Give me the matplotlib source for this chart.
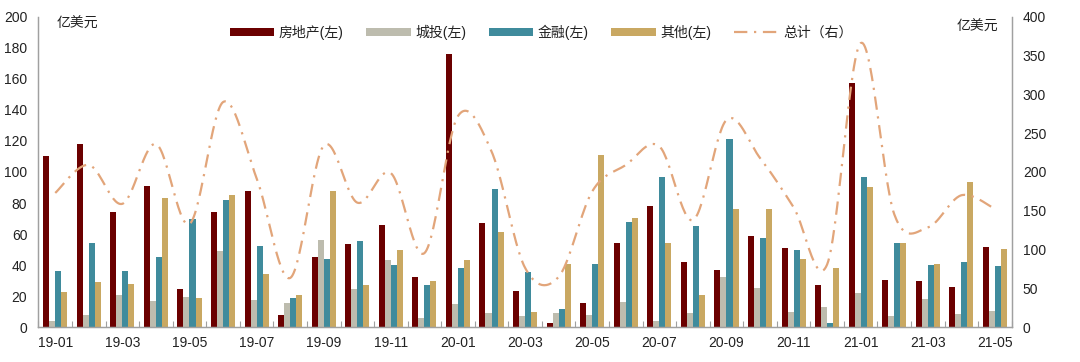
import numpy as np
import matplotlib
matplotlib.use("Agg")
import matplotlib.pyplot as plt
from matplotlib.lines import Line2D
from matplotlib.patches import Patch

plt.rcParams['font.family'] = ['Liberation Sans', 'Noto Sans CJK SC', 'DejaVu Sans']

months = ["19-01", "19-02", "19-03", "19-04", "19-05", "19-06", "19-07", "19-08", "19-09", "19-10",
          "19-11", "19-12", "20-01", "20-02", "20-03", "20-04", "20-05", "20-06", "20-07", "20-08",
          "20-09", "20-10", "20-11", "20-12", "21-01", "21-02", "21-03", "21-04", "21-05"]

real_estate = [110, 118, 74, 91, 24.5, 74, 88, 8, 45.5, 53.5,
               66, 32.5, 176, 67, 23.5, 3, 15.5, 54.5, 78, 42,
               37, 59, 51, 27, 157.5, 30.5, 30, 26, 52]
lgfv = [4, 8, 21, 17, 19.5, 49, 17.5, 15.5, 56.5, 24.5,
        43, 6, 15, 9, 7.5, 9.5, 8, 16, 4, 9.5,
        32.5, 25.5, 10, 13, 22, 7, 18, 8.5, 10.5]
finance = [36, 54, 36, 45, 70, 82, 52.5, 19, 44, 55.5,
           40, 27, 38, 89, 35.5, 12, 40.5, 68, 97, 65.5,
           121.5, 57.5, 49.5, 3, 96.5, 54, 40, 42, 39.5]
other = [23, 29, 28, 83, 19, 85, 34, 21, 88, 27,
         49.5, 30, 43, 61.5, 10, 40.5, 111, 70.5, 54, 21,
         76, 76, 44, 38, 90, 54, 40.5, 93.5, 50.5]
total = [173, 209, 159, 236, 133, 290, 192, 63.5, 234, 160.5,
         198.5, 95.5, 272, 226.5, 76.5, 65, 175, 209, 233, 138,
         267, 218, 154.5, 81, 366, 145.5, 128.5, 170, 152.5]

series_names = ["房地产(左)", "城投(左)", "金融(左)", "其他(左)"]
colors = ["#6B0000", "#BDBCAE", "#3F8B9C", "#C9A862"]
line_color = "#E2A57A"
line_name = "总计（右）"

fig = plt.figure(figsize=(10.8, 3.62), dpi=100)
ax = fig.add_axes([0.0356, 0.0959, 0.9012, 0.8581])
ax2 = ax.twinx()

x = np.arange(len(months))
bw = 0.18
data = [real_estate, lgfv, finance, other]
for i, (vals, c) in enumerate(zip(data, colors)):
    ax.bar(x + (i - 1.5) * bw, vals, width=bw, color=c, zorder=2)

# Excel-like smoothed line (uniform Catmull-Rom through the points)
def catmull_rom(xs, ys, n=30):
    px = np.concatenate([[xs[0]], xs, [xs[-1]]]).astype(float)
    py = np.concatenate([[ys[0]], ys, [ys[-1]]]).astype(float)
    outx, outy = [], []
    t = np.linspace(0, 1, n, endpoint=False)
    for k in range(1, len(px) - 2):
        p0, p1, p2, p3 = px[k-1], px[k], px[k+1], px[k+2]
        q0, q1, q2, q3 = py[k-1], py[k], py[k+1], py[k+2]
        b1x, b1y = p1 + (p2 - p0) / 6, q1 + (q2 - q0) / 6
        b2x, b2y = p2 - (p3 - p1) / 6, q2 - (q3 - q1) / 6
        outx.append((1-t)**3*p1 + 3*(1-t)**2*t*b1x + 3*(1-t)*t**2*b2x + t**3*p2)
        outy.append((1-t)**3*q1 + 3*(1-t)**2*t*b1y + 3*(1-t)*t**2*b2y + t**3*q2)
    outx.append([px[-2]]); outy.append([py[-2]])
    return np.concatenate(outx), np.concatenate(outy)

sx, sy = catmull_rom(x, np.array(total))
ax2.plot(sx, sy, color=line_color, lw=1.6, linestyle=(0, (6, 3, 1, 3)), zorder=3)

ax.set_xlim(-0.5, len(months) - 0.5)
ax.set_ylim(0, 200)
ax2.set_ylim(0, 400)
ax.set_yticks(np.arange(0, 201, 20))
ax2.set_yticks(np.arange(0, 401, 50))

ax.set_xticks(x[::2])
ax.set_xticklabels(months[::2])
ax.set_xticks(np.arange(-0.5, len(months), 1), minor=True)
ax.tick_params(axis='x', which='major', length=0, pad=6, labelsize=10, labelcolor="#222222")
ax.tick_params(axis='x', which='minor', direction='in', length=4, color="#A0A0A0", width=0.8)
ax.tick_params(axis='y', length=0, pad=8, labelsize=10, labelcolor="#222222")
ax2.tick_params(axis='y', length=0, pad=8, labelsize=10, labelcolor="#222222")

for a in (ax, ax2):
    a.spines['top'].set_visible(False)
    for s in ('left', 'right', 'bottom'):
        a.spines[s].set_color("#A0A0A0")
        a.spines[s].set_linewidth(0.9)

fig.text(57 / 1080, 1 - 24 / 362, "亿美元", fontsize=10, color="#222222", va='center', ha='left')
fig.text(998 / 1080, 1 - 27 / 362, "亿美元", fontsize=10, color="#222222", va='center', ha='right')

handles = [Patch(facecolor=c, edgecolor='none') for c in colors]
handles.append(Line2D([0], [0], color=line_color, lw=1.6, linestyle=(0, (6, 3, 1, 3))))
fig.legend(handles, series_names + [line_name], ncol=5, frameon=False,
           loc='center', bbox_to_anchor=(541 / 1080, 1 - 32 / 362),
           fontsize=10, handlelength=3.2, handleheight=0.55, handletextpad=0.35,
           columnspacing=1.6, labelcolor="#222222")

fig.savefig("out.png", dpi=100)
